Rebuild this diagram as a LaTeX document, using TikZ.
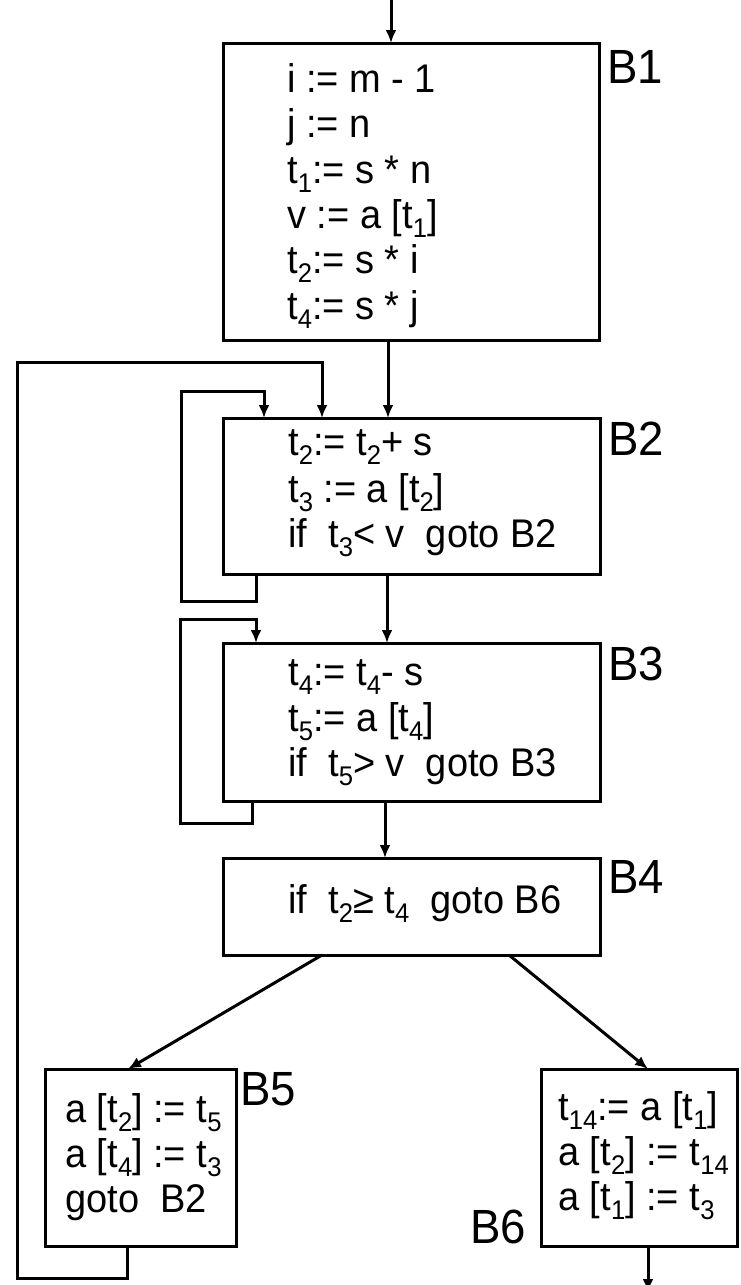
\documentclass[tikz,border=0pt]{standalone}
\usepackage{fontspec}
\setmainfont{Liberation Sans}
\newfontfamily\codefont[FakeStretch=0.95]{Liberation Sans}
\usetikzlibrary{arrows.meta}
\newcommand{\tsb}[1]{\raisebox{-9pt}{\fontsize{27}{27}\selectfont #1}}

\begin{document}
\begin{tikzpicture}[x=1pt,y=-1pt,
  blk/.style={draw, line width=3pt, anchor=north west, outer sep=0pt, inner sep=0pt},
  code/.style={anchor=base west, inner sep=0pt, font=\codefont\fontsize{40}{44}\selectfont},
  lbl/.style={anchor=base west, inner sep=0pt, font=\codefont\fontsize{48}{50}\selectfont},
  flow/.style={line width=3pt, -{Latex[length=13pt,width=11pt]}}]
\useasboundingbox (0,0) rectangle (740,1285);
% blocks
\node[blk, minimum width=376pt, minimum height=297pt] (b1) at (223,43) {};
\node[blk, minimum width=377pt, minimum height=156pt] (b2) at (223,418) {};
\node[blk, minimum width=377pt, minimum height=158pt] (b3) at (223,643) {};
\node[blk, minimum width=377pt, minimum height=97pt] (b4) at (223,858) {};
\node[blk, minimum width=191pt, minimum height=177pt] (b5) at (45,1069) {};
\node[blk, minimum width=196pt, minimum height=177pt] (b6) at (541,1069) {};
% block names
\node[lbl] (b1lab) at (607,83) {B1};
\node[lbl] (b2lab) at (608,455) {B2};
\node[lbl] (b3lab) at (608,680) {B3};
\node[lbl] (b4lab) at (608,893) {B4};
\node[lbl] (b5lab) at (240,1105) {B5};
\node[lbl] (b6lab) at (470,1243) {B6};
% B1
\node[code] (b1l1) at (287,92) {i := m - 1};
\node[code] (b1l2) at (287,137) {j := n};
\node[code] (b1l3) at (287,183) {t\tsb{1}:= s * n};
\node[code] (b1l4) at (287,228) {v := a [t\tsb{1}]};
\node[code] (b1l5) at (287,273) {t\tsb{2}:= s * i};
\node[code] (b1l6) at (287,319) {t\tsb{4}:= s * j};
% B2
\node[code] (b2l1) at (288,455) {t\tsb{2}:= t\tsb{2}+ s};
\node[code] (b2l2) at (288,502) {t\tsb{3} := a [t\tsb{2}]};
\node[code] (b2l3) at (288,547) {if\ \ t\tsb{3}< v\ \ goto B2};
% B3
\node[code] (b3l1) at (288,685) {t\tsb{4}:= t\tsb{4}- s};
\node[code] (b3l2) at (288,731) {t\tsb{5}:= a [t\tsb{4}]};
\node[code] (b3l3) at (288,776) {if\ \ t\tsb{5}> v\ \ goto B3};
% B4
\node[code] (b4l1) at (288,913) {if\ \ t\tsb{2}≥ t\tsb{4}\ \ goto B6};
% B5
\node[code] (b5l1) at (65,1122) {a [t\tsb{2}] := t\tsb{5}};
\node[code] (b5l2) at (65,1167) {a [t\tsb{4}] := t\tsb{3}};
\node[code] (b5l3) at (65,1212) {goto\ \ B2};
% B6
\node[code] (b6l1) at (558,1120) {t\tsb{14}:= a [t\tsb{1}]};
\node[code] (b6l2) at (558,1165) {a [t\tsb{2}] := t\tsb{14}};
\node[code] (b6l3) at (558,1210) {a [t\tsb{1}] := t\tsb{3}};
% flow
\coordinate (entry) at (391,-5);
\coordinate (exit) at (648,1292);
\draw[flow] (entry) -- (entry |- b1.north);
\draw[flow] ([xshift=165pt]b1.south west) -- ([xshift=165pt]b2.north west);
\draw[flow] ([xshift=33pt]b2.south west) -- ++(0,27) -| (181,391) -| ([xshift=41pt]b2.north west);
\draw[flow] ([xshift=164pt]b2.south west) -- ([xshift=164pt]b3.north west);
\draw[flow] ([xshift=29pt]b3.south west) -- ++(0,22) -| (180,619) -| ([xshift=33pt]b3.north west);
\draw[flow] ([xshift=162pt]b3.south west) -- ([xshift=162pt]b4.north west);
\draw[flow] ([xshift=99pt]b4.south west) -- ([xshift=83pt]b5.north west);
\draw[flow] ([xshift=286pt]b4.south west) -- ([xshift=107pt]b6.north west);
\draw[flow] ([xshift=82pt]b5.south west) -- ++(0,32) -| (17,362) -| ([xshift=99pt]b2.north west);
\draw[flow] ([xshift=107pt]b6.south west) -- (exit);
\end{tikzpicture}
\end{document}
